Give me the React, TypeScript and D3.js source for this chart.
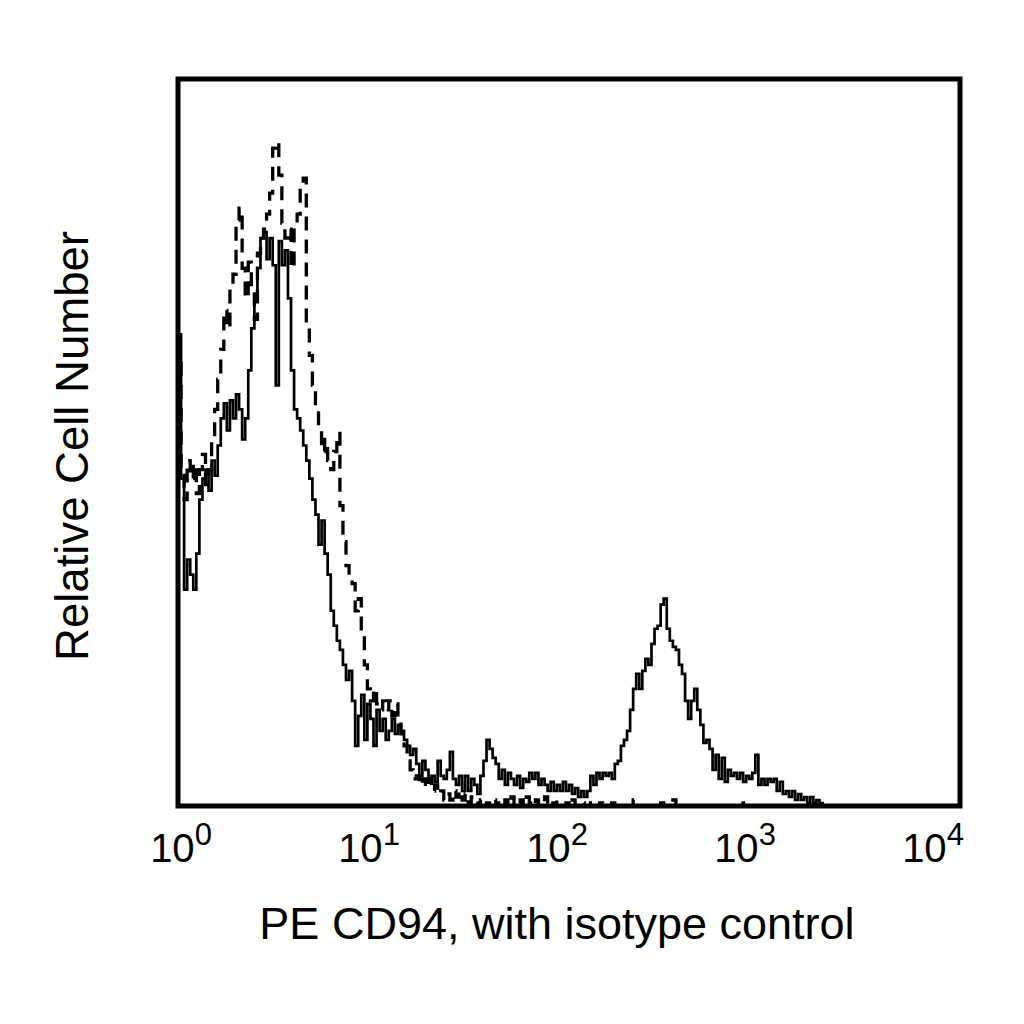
import React from "react";
import * as d3 from "d3";

// decade ticks of the 4-decade log axis
const decadeTicks = [1, 10, 100, 1000, 10000];
const tickExponents = ["0", "1", "2", "3", "4"];
const channelsPerDecade = 64; // 256 channels over 4 decades

// PE CD94 stained cells, counts per channel (solid line)
const cd94Counts = [
  157, 109, 72, 82, 77, 72, 84, 102, 109, 112,
  105, 115, 110, 120, 129, 134, 125, 135, 129, 137,
  132, 122, 129, 145, 159, 169, 179, 189, 191, 182,
  189, 180, 140, 188, 180, 185, 169, 145, 132, 129,
  125, 120, 115, 109, 102, 97, 87, 95, 84, 77,
  65, 60, 55, 52, 47, 42, 45, 35, 20, 30,
  37, 22, 34, 29, 20, 32, 25, 29, 22, 25,
  29, 24, 27, 25, 22, 20, 17, 19, 14, 10,
  15, 12, 9, 10, 8, 15, 10, 9, 12, 18,
  9, 7, 10, 5, 10, 5, 9, 7, 4, 10,
  15, 22, 19, 16, 14, 9, 12, 7, 11, 9,
  7, 10, 6, 9, 8, 11, 9, 11, 7, 9,
  7, 5, 8, 5, 7, 5, 8, 5, 7, 4,
  6, 3, 5, 3, 5, 10, 7, 11, 9, 11,
  10, 11, 9, 14, 15, 20, 22, 25, 32, 39,
  44, 39, 45, 49, 47, 54, 59, 60, 67, 69,
  59, 55, 53, 52, 47, 44, 35, 29, 35, 39,
  32, 27, 21, 22, 19, 12, 17, 9, 16, 8,
  12, 10, 11, 9, 11, 8, 10, 9, 11, 17,
  7, 9, 7, 9, 8, 9, 5, 8, 4, 5,
  3, 5, 2, 4, 2, 3, 1, 3, 1, 2, 1,
];

// isotype control, counts per channel (dashed line)
const isotypeCounts = [
  150, 112, 102, 115, 109, 114, 104, 112, 117, 107,
  112, 122, 132, 142, 152, 165, 159, 172, 177, 195,
  199, 179, 169, 181, 172, 162, 184, 189, 192, 197,
  204, 219, 221, 210, 194, 189, 192, 179, 194, 197,
  207, 209, 160, 150, 140, 133, 125, 118, 122, 115,
  112, 118, 124, 100, 88, 80, 77, 74, 65, 69,
  59, 47, 39, 35, 39, 34, 32, 35, 32, 35,
  30, 34, 29, 24, 20, 15, 12, 9, 10, 7,
  9, 6, 9, 5, 7, 4, 5, 2, 4, 2,
  5, 3, 5, 2, 4, 1, 3, 1, 0, 2,
  0, 1, 0, 2, 0, 1, 0, 2, 0, 3,
  0, 1, 2, 0, 3, 1, 0, 2, 0, 1,
  3, 0, 1, 0, 2, 0, 0, 1, 0, 2,
  0, 0, 1, 0, 0, 2, 0, 0, 1, 0,
  0, 0, 1, 0, 0, 0, 0, 0, 0, 2,
  0, 0, 0, 0, 0, 0, 0, 0, 1, 0,
  0, 0, 2, 0, 0, 0, 0, 0, 0, 0,
  0, 0, 0, 0, 0, 0, 0, 0, 0, 0,
  0, 0, 0, 0, 0, 1,
];

const xTitle = "PE CD94, with isotype control";
const yTitle = "Relative Cell Number";

const font = "'Liberation Sans', Arial, Helvetica, sans-serif";

const App: React.FC = () => {
  const size = 1024;
  const plot = { left: 178, right: 960, top: 79, bottom: 806 };

  // scales
  const xScale = d3.scaleLog().domain([1, 10000]).range([plot.left, plot.right]);
  const labelScale = d3.scaleLog().domain([1, 10000]).range([181, 933]);
  const yScale = d3.scaleLinear().domain([0, 242]).range([plot.bottom, plot.top]);

  const channelValue = (c: number) => Math.pow(10, c / channelsPerDecade);

  // step histogram: start on the baseline, end back on it
  const toPoints = (counts: number[]): [number, number][] => [
    [channelValue(0), 0],
    ...counts.map((v, c) => [channelValue(c), v] as [number, number]),
    [channelValue(counts.length), 0],
  ];

  const stepLine = d3
    .line<[number, number]>()
    .x((d) => xScale(d[0]))
    .y((d) => yScale(d[1]))
    .curve(d3.curveStepAfter);

  return (
    <svg
      width={size}
      height={size}
      style={{ position: "absolute", left: 0, top: 0, display: "block", background: "#fff" }}
    >
      <defs>
        <clipPath id="plot-clip">
          <rect
            x={plot.left}
            y={plot.top}
            width={plot.right - plot.left}
            height={plot.bottom - plot.top}
          />
        </clipPath>
      </defs>

      <g clipPath="url(#plot-clip)">
        {/* isotype control */}
        <path
          d={stepLine(toPoints(isotypeCounts)) || ""}
          fill="none"
          stroke="#000"
          strokeWidth={3.3}
          strokeDasharray="14 9"
        />
        {/* CD94 */}
        <path
          d={stepLine(toPoints(cd94Counts)) || ""}
          fill="none"
          stroke="#000"
          strokeWidth={2.7}
        />
      </g>

      {/* frame */}
      <rect
        x={plot.left}
        y={plot.top}
        width={plot.right - plot.left}
        height={plot.bottom - plot.top}
        fill="none"
        stroke="#000"
        strokeWidth={5}
      />

      {/* tick labels */}
      {decadeTicks.map((t, i) => (
        <text
          key={t}
          x={labelScale(t)}
          y={862}
          textAnchor="middle"
          fontFamily={font}
          fontSize={40}
          fill="#000"
        >
          10
          <tspan fontSize={31} dy={-17}>
            {tickExponents[i]}
          </tspan>
        </text>
      ))}

      {/* axis titles */}
      <text
        x={557}
        y={939}
        textAnchor="middle"
        fontFamily={font}
        fontSize={45}
        fill="#000"
      >
        {xTitle}
      </text>
      <text
        transform={`translate(88,446) rotate(-90)`}
        textAnchor="middle"
        fontFamily={font}
        fontSize={45.5}
        fill="#000"
      >
        {yTitle}
      </text>
    </svg>
  );
};

export default App;
